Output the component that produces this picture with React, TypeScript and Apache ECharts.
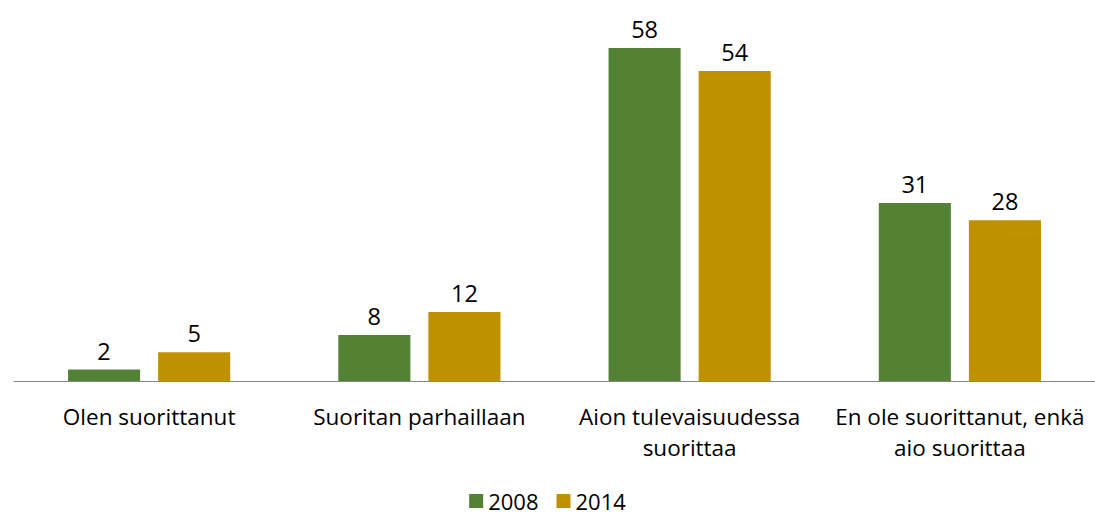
import React, { useEffect, useRef } from "react";
import * as echarts from "echarts";

const categories = [
  "Olen suorittanut",
  "Suoritan parhaillaan",
  "Aion tulevaisuudessa\nsuorittaa",
  "En ole suorittanut, enkä\naio suorittaa",
];
const series2008 = [2, 8, 58, 31];
const series2014 = [5, 12, 54, 28];
const seriesNames = ["2008", "2014"];

const FONT = "'Open Sans', sans-serif";

export default function App() {
  const ref = useRef<HTMLDivElement>(null);
  useEffect(() => {
    if (!ref.current) return;
    const chart = echarts.init(ref.current, undefined, { renderer: "svg" });
    const label = {
      show: true,
      position: "top" as const,
      distance: 7,
      color: "#000",
      fontSize: 23.5,
      fontFamily: FONT,
    };
    chart.setOption({
      animation: false,
      textStyle: { fontFamily: FONT },
      grid: { left: 14, right: 0, top: 36.5, bottom: 135 },
      legend: {
        top: 489,
        left: "center",
        padding: 0,
        itemWidth: 14,
        itemHeight: 14,
        itemGap: 18,
        icon: "rect",
        textStyle: { fontSize: 22, lineHeight: 24, color: "#000", fontFamily: FONT },
        data: seriesNames,
      },
      xAxis: {
        type: "category",
        data: categories,
        axisTick: { show: false },
        axisLine: { lineStyle: { color: "#868686", width: 1 } },
        axisLabel: {
          color: "#000",
          fontSize: 22.5,
          fontFamily: FONT,
          margin: 20,
          lineHeight: 31,
          interval: 0,
        },
      },
      yAxis: {
        type: "value",
        min: 0,
        max: 60,
        show: false,
        splitLine: { show: false },
      },
      series: [
        {
          name: seriesNames[0],
          type: "bar",
          data: series2008,
          itemStyle: { color: "#548235" },
          barGap: "25%",
          barCategoryGap: "40%",
          label,
        },
        {
          name: seriesNames[1],
          type: "bar",
          data: series2014,
          itemStyle: { color: "#BF9000" },
          barGap: "25%",
          barCategoryGap: "40%",
          label,
        },
      ],
    });
    return () => chart.dispose();
  }, []);
  return <div ref={ref} style={{ width: 1095, height: 516, position: "absolute", left: 0, top: 0 }} />;
}
